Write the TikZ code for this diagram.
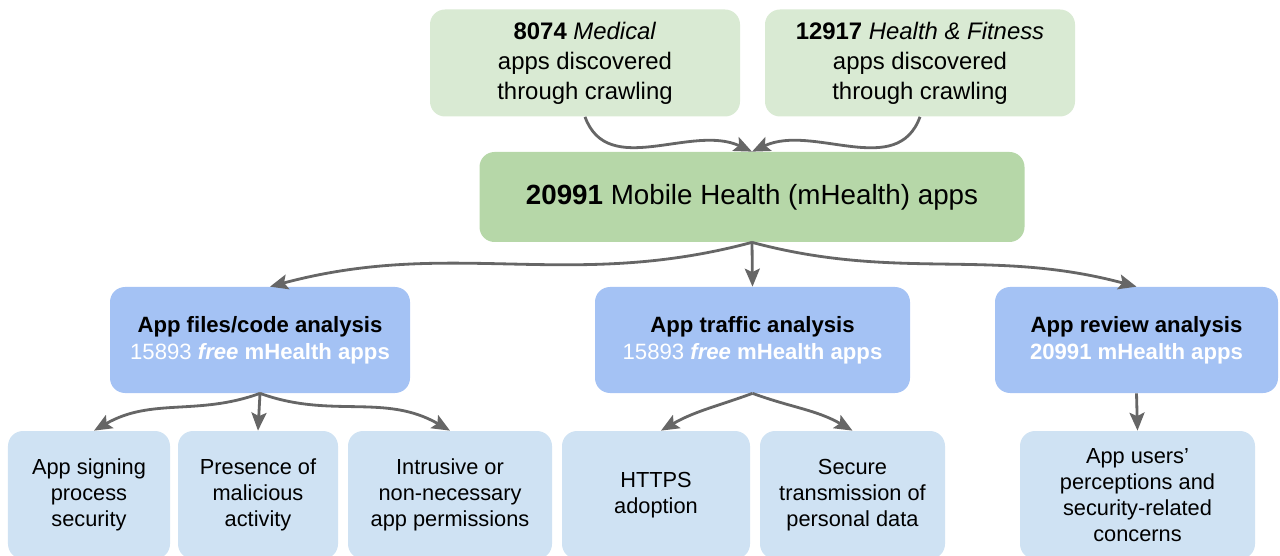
\documentclass[tikz,border=0pt]{standalone}
\usepackage{fontspec}
\setmainfont{Liberation Sans}
\usetikzlibrary{arrows.meta,positioning}
\definecolor{srcgreen}{HTML}{D9EAD3}
\definecolor{allgreen}{HTML}{B6D7A8}
\definecolor{kindblue}{HTML}{A4C2F4}
\definecolor{topicblue}{HTML}{CFE2F3}
\definecolor{linkgray}{HTML}{666666}

\begin{document}
\begin{tikzpicture}[>={Stealth[length=0.36cm,width=0.3cm,inset=0.07cm]},node distance=6.7cm]
\tikzstyle{source}=[fill=srcgreen,rounded corners=0.3cm,minimum width=6.2cm,minimum height=2.14cm,align=center,font=\fontsize{13.6}{17}\selectfont]
\tikzstyle{total}=[fill=allgreen,rounded corners=0.3cm,minimum width=10.9cm,minimum height=1.8cm,font=\fontsize{15.8}{19}\selectfont]
\tikzstyle{kind}=[fill=kindblue,rounded corners=0.3cm,minimum height=2.12cm,align=center,font=\fontsize{12.6}{15.4}\selectfont]
\tikzstyle{topic}=[fill=topicblue,rounded corners=0.3cm,minimum height=2.56cm,align=center,font=\fontsize{12.4}{14.8}\selectfont]
\tikzstyle{link}=[->,draw=linkgray,line width=1.6pt]
\clip (0,0) rectangle (25.6,-11.12);
% sources and total
\node[source] (med) at (11.7,-1.26) {\textbf{8074} \textit{Medical}\\apps discovered\\through crawling};
\node[source] [right of=med] (fit) {\textbf{12917} \textit{Health \& Fitness}\\apps discovered\\through crawling};
\node[total] (all) at (15.04,-3.94) {\textbf{20991} Mobile Health (mHealth) apps};
% analyses
\node[kind,minimum width=6.0cm] (code) at (5.2,-6.8) {\textbf{App files/code analysis}\\\textcolor{white}{15893 \textbf{\textit{free} mHealth apps}}};
\node[kind,minimum width=6.3cm] (traffic) at (15.05,-6.8) {\textbf{App traffic analysis}\\\textcolor{white}{15893 \textbf{\textit{free} mHealth apps}}};
\node[kind,minimum width=5.66cm] (review) at (22.73,-6.8) {\textbf{App review analysis}\\\textcolor{white}{\textbf{20991 mHealth apps}}};
% topics
\node[topic,minimum width=3.24cm] (sign) at (1.78,-9.9) {App signing\\process\\security};
\node[topic,minimum width=3.2cm] (malware) at (5.16,-9.9) {Presence of\\malicious\\activity};
\node[topic,minimum width=4.08cm] (perm) at (9.0,-9.9) {Intrusive or\\non-necessary\\app permissions};
\node[topic,minimum width=3.76cm] (https) at (13.12,-9.9) {HTTPS\\adoption};
\node[topic,minimum width=3.7cm] (secure) at (17.05,-9.9) {Secure\\transmission of\\personal data};
\node[topic,minimum width=4.7cm] (users) at (22.75,-9.9) {App users'\\perceptions and\\security-related\\concerns};
% links
\path[link] (med.south) to[out=-70,in=155] (all.north);
\path[link] (fit.south) to[out=-110,in=25] (all.north);
\path[link] (all.south) to[out=-165,in=15] ([xshift=0.2cm]code.north);
\path[link] (all.south) -- (traffic.north);
\path[link] (all.south) to[out=-15,in=165] (review.north);
\path[link] (code.south) to[out=-160,in=30] ([xshift=0.1cm]sign.north);
\path[link] (code.south) -- (malware.north);
\path[link] (code.south) to[out=-20,in=150] (perm.north);
\path[link] (traffic.south) to[out=-160,in=30] ([xshift=0.1cm]https.north);
\path[link] (traffic.south) to[out=-20,in=150] (secure.north);
\path[link] (review.south) -- (users.north);
\end{tikzpicture}
\end{document}
